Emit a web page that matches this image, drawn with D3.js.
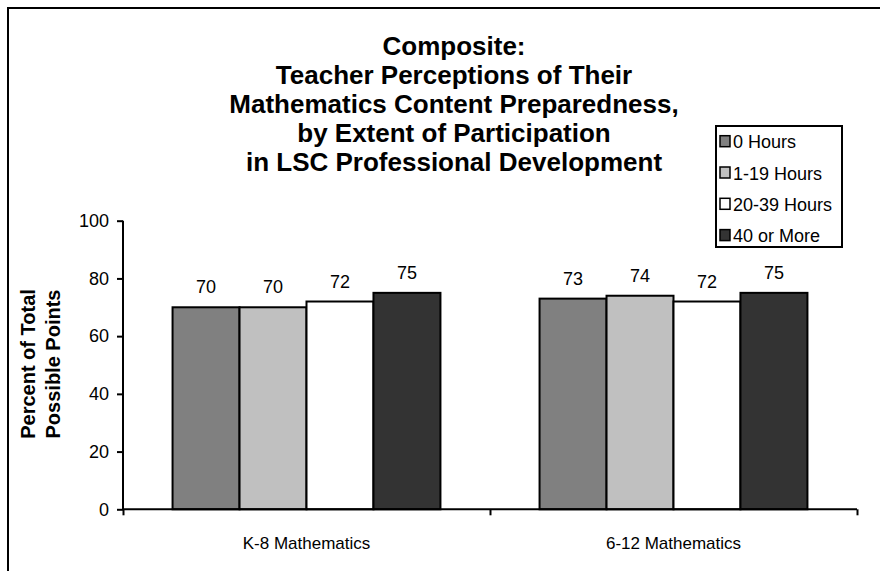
<!DOCTYPE html>
<html>
<head>
<meta charset="utf-8">
<script src="https://cdn.jsdelivr.net/npm/d3@7"></script>
<style>
  html, body { margin: 0; padding: 0; background: #fff; }
  svg { display: block; font-family: "Liberation Sans", Arial, sans-serif; }
</style>
</head>
<body>
<svg id="chart" width="880" height="571"></svg>
<script>
// Data
const categories = ["K-8 Mathematics", "6-12 Mathematics"];
const seriesNames = ["0 Hours", "1-19 Hours", "20-39 Hours", "40 or More"];
const seriesColors = ["#808080", "#c0c0c0", "#ffffff", "#333333"];
const values0Hours = [70, 73];
const values1to19 = [70, 74];
const values20to39 = [72, 72];
const values40Plus = [75, 75];
const yTicks = [0, 20, 40, 60, 80, 100];
const titleLines = [
  "Composite:",
  "Teacher Perceptions of Their",
  "Mathematics Content Preparedness,",
  "by Extent of Participation",
  "in LSC Professional Development"
];
const yLabelLines = ["Percent of Total", "Possible Points"];

const seriesValues = [values0Hours, values1to19, values20to39, values40Plus];

const svg = d3.select("#chart");

// Outer frame
svg.append("rect")
  .attr("x", 8).attr("y", 8)
  .attr("width", 880).attr("height", 580)
  .attr("fill", "none").attr("stroke", "#000").attr("stroke-width", 2);

const plot = { left: 123, right: 857, top: 220.7, bottom: 509.3 };

const x0 = d3.scaleBand()
  .domain(categories)
  .range([plot.left, plot.right])
  .paddingInner(0)
  .paddingOuter(0);

const x1 = d3.scaleBand()
  .domain(seriesNames)
  .range([0, x0.bandwidth()])
  .paddingOuter(0.74)
  .paddingInner(0);

const y = d3.scaleLinear().domain([0, 100]).range([plot.bottom, plot.top]);

// Bars
const groups = svg.append("g").selectAll("g")
  .data(categories)
  .join("g")
  .attr("transform", d => `translate(${x0(d)},0)`);

const cells = (c, ci) => seriesNames.map((s, si) => ({ s, si, v: seriesValues[si][ci] }));

groups.selectAll("rect")
  .data(cells)
  .join("rect")
  .attr("x", d => x1(d.s))
  .attr("y", d => y(d.v))
  .attr("width", x1.bandwidth())
  .attr("height", d => y(0) - y(d.v))
  .attr("fill", d => seriesColors[d.si])
  .attr("stroke", "#000")
  .attr("stroke-width", 2);

// Value labels
groups.selectAll("text.val")
  .data(cells)
  .join("text")
  .attr("class", "val")
  .attr("x", d => x1(d.s) + x1.bandwidth() / 2)
  .attr("y", d => y(d.v) - 14)
  .attr("text-anchor", "middle")
  .attr("font-size", 18)
  .attr("fill", "#000")
  .text(d => d.v);

// Y axis
const yAxis = svg.append("g")
  .attr("transform", `translate(${plot.left},0)`)
  .call(d3.axisLeft(y).tickValues(yTicks).tickSize(6).tickPadding(8));
yAxis.select(".domain").attr("stroke", "#000").attr("stroke-width", 2)
  .attr("d", `M0,${plot.top}V${plot.bottom}`);
yAxis.selectAll(".tick line").attr("stroke", "#000").attr("stroke-width", 2);
yAxis.selectAll(".tick text")
  .attr("font-family", "Liberation Sans, Arial, sans-serif")
  .attr("font-size", 18).attr("fill", "#000");

// X axis
const xAxisScale = d3.scaleLinear().domain([0, 2]).range([plot.left, plot.right]);
const xAxis = svg.append("g")
  .attr("transform", `translate(0,${plot.bottom})`)
  .call(d3.axisBottom(xAxisScale).tickValues([0, 1, 2]).tickSize(6).tickFormat(""));
xAxis.select(".domain").attr("stroke", "#000").attr("stroke-width", 2)
  .attr("d", `M${plot.left},0H${plot.right}`);
xAxis.selectAll(".tick line").attr("stroke", "#000").attr("stroke-width", 2);

// Category labels
svg.append("g").selectAll("text")
  .data(categories)
  .join("text")
  .attr("x", d => x0(d) + x0.bandwidth() / 2)
  .attr("y", 549)
  .attr("text-anchor", "middle")
  .attr("font-size", 17)
  .text(d => d);

// Title
svg.append("g").selectAll("text")
  .data(titleLines)
  .join("text")
  .attr("x", 454)
  .attr("y", (d, i) => 55 + i * 29)
  .attr("text-anchor", "middle")
  .attr("font-size", 26)
  .attr("font-weight", "bold")
  .text(d => d);

// Y axis title
svg.append("g").selectAll("text")
  .data(yLabelLines)
  .join("text")
  .attr("transform", (d, i) => `translate(${35 + i * 25},364) rotate(-90)`)
  .attr("text-anchor", "middle")
  .attr("font-size", 20)
  .attr("font-weight", "bold")
  .text(d => d);

// Legend
const legend = svg.append("g").attr("transform", "translate(716,126)");
legend.append("rect")
  .attr("width", 126).attr("height", 121)
  .attr("fill", "#fff").attr("stroke", "#000").attr("stroke-width", 2);
const items = legend.selectAll("g.item")
  .data(seriesNames)
  .join("g")
  .attr("class", "item")
  .attr("transform", (d, i) => `translate(4,${15.7 + i * 31.3})`);
items.append("rect")
  .attr("x", 0).attr("y", -6)
  .attr("width", 10).attr("height", 11)
  .attr("fill", (d, i) => seriesColors[i])
  .attr("stroke", "#000").attr("stroke-width", 1.5);
items.append("text")
  .attr("x", 13).attr("y", 6.5)
  .attr("font-size", 18)
  .text(d => d);
</script>
</body>
</html>
